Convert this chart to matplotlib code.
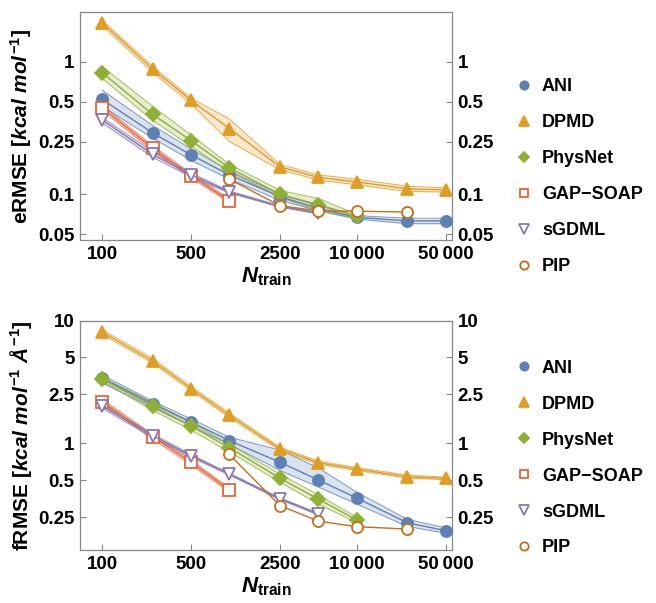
import numpy as np
import matplotlib
matplotlib.use("Agg")
import matplotlib.pyplot as plt
from matplotlib.ticker import FixedLocator, NullLocator

plt.rcParams['font.family'] = ['Liberation Sans', 'DejaVu Sans']
plt.rcParams['font.weight'] = 'bold'
plt.rcParams['axes.labelweight'] = 'bold'
plt.rcParams['mathtext.fontset'] = 'custom'
plt.rcParams['mathtext.rm'] = 'Liberation Sans:bold'
plt.rcParams['mathtext.it'] = 'Liberation Sans:italic:bold'
plt.rcParams['mathtext.bf'] = 'Liberation Sans:bold'

# training set sizes
n_train = [100, 250, 500, 1000, 2500, 5000, 10000, 25000, 50000]
xtick_vals = [100, 500, 2500, 10000, 50000]
xtick_labels = ['100', '500', '2500', '10\u2009000', '50\u2009000']

# energy RMSE (kcal/mol): value, lower, upper
e_ani = [0.52, 0.29, 0.198, 0.14, 0.096, 0.078, 0.067, 0.063, 0.063]
e_ani_lo = [0.46, 0.265, 0.18, 0.13, 0.09, 0.075, 0.065, 0.060, 0.060]
e_ani_hi = [0.61, 0.33, 0.22, 0.15, 0.10, 0.082, 0.069, 0.066, 0.066]
e_dpmd = [1.97, 0.877, 0.51, 0.313, 0.161, 0.134, 0.124, 0.11, 0.108]
e_dpmd_lo = [1.87, 0.83, 0.48, 0.25, 0.153, 0.128, 0.118, 0.105, 0.104]
e_dpmd_hi = [2.05, 0.92, 0.53, 0.37, 0.168, 0.14, 0.13, 0.115, 0.112]
e_phys = [0.826, 0.40, 0.254, 0.158, 0.10, 0.0835, 0.0686]
e_phys_lo = [0.75, 0.36, 0.23, 0.148, 0.095, 0.075, 0.066]
e_phys_hi = [0.92, 0.46, 0.28, 0.168, 0.107, 0.093, 0.071]
e_gap = [0.45, 0.222, 0.138, 0.0895]
e_gap_lo = [0.43, 0.213, 0.133, 0.087]
e_gap_hi = [0.47, 0.231, 0.143, 0.092]
e_sgdml = [0.364, 0.20, 0.14, 0.104, 0.081, 0.072]
e_sgdml_lo = [0.345, 0.19, 0.135, 0.102, 0.080, 0.071]
e_sgdml_hi = [0.38, 0.21, 0.145, 0.106, 0.082, 0.073]
e_pip = [0.13, 0.082, 0.075, 0.0745, 0.0735]

# force RMSE (kcal/mol/A): value, lower, upper
f_ani = [3.39, 2.09, 1.49, 1.05, 0.70, 0.502, 0.358, 0.225, 0.194]
f_ani_lo = [3.1, 1.95, 1.38, 0.98, 0.60, 0.44, 0.32, 0.21, 0.185]
f_ani_hi = [3.6, 2.2, 1.58, 1.12, 0.88, 0.63, 0.40, 0.24, 0.205]
f_dpmd = [8.04, 4.69, 2.79, 1.69, 0.90, 0.695, 0.617, 0.534, 0.518]
f_dpmd_lo = [7.7, 4.5, 2.68, 1.62, 0.87, 0.675, 0.60, 0.52, 0.505]
f_dpmd_hi = [8.4, 4.9, 2.9, 1.76, 0.93, 0.715, 0.635, 0.55, 0.53]
f_phys = [3.33, 2.01, 1.38, 0.92, 0.518, 0.351, 0.237]
f_phys_lo = [3.2, 1.85, 1.28, 0.85, 0.48, 0.32, 0.225]
f_phys_hi = [3.45, 2.15, 1.48, 0.98, 0.56, 0.38, 0.25]
f_gap = [2.18, 1.13, 0.70, 0.416]
f_gap_lo = [2.09, 1.08, 0.67, 0.40]
f_gap_hi = [2.27, 1.18, 0.73, 0.43]
f_sgdml = [2.01, 1.15, 0.79, 0.56, 0.353, 0.265]
f_sgdml_lo = [1.93, 1.11, 0.77, 0.55, 0.347, 0.26]
f_sgdml_hi = [2.09, 1.19, 0.81, 0.57, 0.359, 0.27]
f_pip = [0.81, 0.31, 0.232, 0.209, 0.20]

pip_x = n_train[3:8]

names = ['ANI', 'DPMD', 'PhysNet', 'GAP\u2212SOAP', 'sGDML', 'PIP']
colors = ['#5E81B5', '#E19C24', '#8FB032', '#EB6235', '#8778B3', '#C56E1A']
markers = ['o', '^', 'D', 's', 'v', 'o']
filled = [True, True, True, False, False, False]
msizes = [8, 9, 7, 8, 9, 8]

fig = plt.figure(figsize=(6.56, 6.03), dpi=100)
ax1 = fig.add_axes([80/656, 1 - 240/603, 372/656, 228/603])
ax2 = fig.add_axes([80/656, 1 - 550/603, 372/656, 229.5/603])

e_sets = [(e_ani, e_ani_lo, e_ani_hi), (e_dpmd, e_dpmd_lo, e_dpmd_hi),
          (e_phys, e_phys_lo, e_phys_hi), (e_gap, e_gap_lo, e_gap_hi),
          (e_sgdml, e_sgdml_lo, e_sgdml_hi), (e_pip, None, None)]
f_sets = [(f_ani, f_ani_lo, f_ani_hi), (f_dpmd, f_dpmd_lo, f_dpmd_hi),
          (f_phys, f_phys_lo, f_phys_hi), (f_gap, f_gap_lo, f_gap_hi),
          (f_sgdml, f_sgdml_lo, f_sgdml_hi), (f_pip, None, None)]


def draw(ax, sets, yticks, yticklabels, ylim, ylabel, leg_y):
    handles = []
    for i, (v, lo, hi) in enumerate(sets):
        x = pip_x if i == 5 else n_train[:len(v)]
        c = colors[i]
        if lo is not None:
            ax.fill_between(x, lo, hi, color=c, alpha=0.22, lw=0)
            ax.plot(x, lo, color=c, lw=0.7, alpha=0.8)
            ax.plot(x, hi, color=c, lw=0.7, alpha=0.8)
        h, = ax.plot(x, v, color=c, lw=1.0, marker=markers[i], ms=msizes[i],
                     mfc=c if filled[i] else 'white', mec=c, mew=1.3,
                     label=names[i], zorder=3)
        handles.append(h)
    ax.set_xscale('log')
    ax.set_yscale('log')
    ax.set_xlim(67, 56100)
    ax.set_ylim(*ylim)
    ax.xaxis.set_major_locator(FixedLocator(xtick_vals))
    ax.set_xticklabels(xtick_labels)
    ax.xaxis.set_minor_locator(NullLocator())
    ax.yaxis.set_major_locator(FixedLocator(yticks))
    ax.set_yticklabels(yticklabels)
    ax.yaxis.set_minor_locator(NullLocator())
    ax.tick_params(axis='both', which='major', direction='in', length=4,
                   color='#888888', labelsize=13.5, pad=4)
    ax.tick_params(axis='y', right=True, labelright=True)
    for s in ax.spines.values():
        s.set_color('#888888')
        s.set_linewidth(0.9)
    ax.set_xlabel(r'$\mathit{N}_{\mathrm{train}}$', fontsize=16, labelpad=2)
    ax.set_ylabel(ylabel, fontsize=15, labelpad=3)
    ax.legend(handles=handles, loc='upper left', bbox_to_anchor=(1.13, leg_y),
              frameon=False, labelspacing=1.05, handlelength=0.8,
              handletextpad=0.6, markerscale=0.75,
              prop={'weight': 'bold', 'size': 13})
    for h in ax.get_legend().legend_handles:
        h.set_linestyle('none')


draw(ax1, e_sets, [0.05, 0.1, 0.25, 0.5, 1], ['0.05', '0.1', '0.25', '0.5', '1'],
     (0.0452, 2.37), r'eRMSE $[\mathit{kcal\ mol}^{-1}]$', 0.78)
draw(ax2, f_sets, [0.25, 0.5, 1, 2.5, 5, 10], ['0.25', '0.5', '1', '2.5', '5', '10'],
     (0.135, 10), r'fRMSE $[\mathit{kcal\ mol}^{-1}\ \mathit{\AA}^{-1}]$', 0.90)

fig.savefig('out.png', dpi=100)
